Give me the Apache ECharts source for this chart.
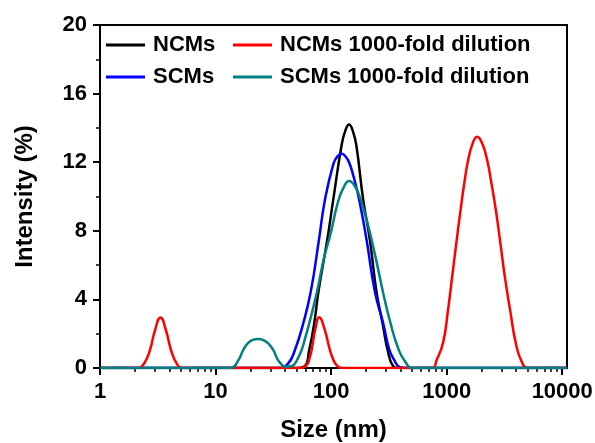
<!DOCTYPE html>
<html>
<head>
<meta charset="utf-8">
<script src="https://cdn.jsdelivr.net/npm/echarts@6/dist/echarts.min.js"></script>
<style>
  html, body { margin: 0; padding: 0; background: #fff; }
  #chart { width: 595px; height: 443px; }
</style>
</head>
<body>
<div id="chart"></div>
<script>
// size axis (nm), log scale
const majorTicks = [1, 10, 100, 1000, 10000];
const minorTicks = [];
for (const d of [1, 10, 100, 1000]) {
  for (let k = 2; k <= 9; k++) minorTicks.push(k * d);
}

// NCMs (black)
const ncmsSize = [1, 50.6, 59.1, 64.65, 71.42, 77.66, 92.54, 104.3, 123.3, 132.2, 142.9, 154.4, 165.2, 189.6, 216.6, 247.5, 279.0, 308.2, 344.4, 378.4, 11000];
const ncmsVal  = [0, 0,    0.1,  1.05,  2.6,   4.45,  7.46,  9.8,   13.0,  13.8,  14.2,  13.8,  13.0,  9.8,   7.46,  4.4,   2.6,   1.05,  0.1,   0,     0];

// NCMs 1000-fold dilution (red)
const ncmsDilSize = [1, 1.818, 2.145, 2.402, 2.707, 2.991, 3.337, 3.724, 4.114, 4.636, 5.173,
                     53.72, 61.4, 64.9, 67.82, 73.14, 78.9, 87.5, 97.6, 104.7, 111.6, 124.0,
                     740, 823, 933, 1024, 1116, 1213, 1319, 1423, 1535, 1679, 1836, 2028, 2240, 2436, 2665, 2914, 3188, 3556, 3968, 4472, 5070, 11000];
const ncmsDilVal  = [0, 0,     0,     0.25,  1.05,  2.2,   2.95,  2.2,   1.05,  0.23,  0,
                     0,     0.17, 0.55, 1.05,  2.3,   2.96, 2.3,  1.05, 0.47,  0.17,  0,
                     0,   0.5,  1.5,  3.3,  5.32, 7.3,  9.21, 10.8, 12.13, 13.1, 13.49, 13.1, 12.13, 10.8, 9.21, 7.3,  5.32, 3.3,  1.44, 0.35, 0,    0];

// SCMs (blue)
const scmsSize = [1, 36.06, 42.56, 48.63, 57.38, 66.89, 78.44, 88.39, 104.7, 113.6, 123.3, 132.7, 142.9, 155.9, 175.1, 202.8, 239.3, 282.3, 316.2, 349.3, 393.7, 443.7, 11000];
const scmsVal  = [0, 0,     0.27,  1.05,  2.6,   4.5,   7.46,  9.8,   11.9,  12.35, 12.5,  12.35, 12.0,  11.2,  9.8,   7.46,  4.45,  2.6,   1.15,  0.5,   0.05,  0,     0];

// SCMs 1000-fold dilution (teal)
const scmsDilSize = [1, 12.06, 13.79, 15.75, 17.36, 19.07, 21.15, 23.41, 25.97, 28.68, 31.56, 34.31, 37.32, 40.24, 44.02, 47.0,
                     51.01, 55.57, 59.95, 64.65, 75.84, 86.65, 99.6, 113.8, 127.8, 143.5, 160.6, 177.5, 196.1, 216.6, 249.0, 280.6, 327.1, 380.5, 434.8, 510.0, 11000];
const scmsDilVal  = [0, 0,     0.02,  0.45,  1.05,  1.45,  1.65,  1.69,  1.62,  1.42,  1.05,  0.52,  0.2,   0.07,  0.1,   0.15,
                     0.5,   1.05,  1.8,   2.6,   4.5,   6.4,   7.9,  9.6,   10.5,  10.9,  10.6,  9.95,  9.0,   7.9,   6.1,   4.45,  2.6,   1.15,  0.4,   0,     0];

const FONT = "'Liberation Sans', Arial, sans-serif";

function pairs(xs, ys) {
  return xs.map((x, i) => [x, ys[i]]);
}

function lineSeries(name, color, xs, ys) {
  return {
    name: name,
    type: 'line',
    xAxisIndex: 0,
    data: pairs(xs, ys),
    showSymbol: false,
    smooth: 0.5,
    lineStyle: { color: color, width: 2.5 },
    itemStyle: { color: color },
    animation: false
  };
}

const chart = echarts.init(document.getElementById('chart'), null, { renderer: 'canvas' });

const legendCommon = {
  orient: 'vertical',
  top: 33,
  padding: 0,
  icon: 'rect',
  itemWidth: 39,
  itemHeight: 3,
  itemGap: 8,
  textStyle: {
    fontFamily: FONT, fontWeight: 'bold', fontSize: 22, color: '#000',
    lineHeight: 24, padding: [0, 0, 0, 3]
  },
  selectedMode: false
};

chart.setOption({
  backgroundColor: '#fff',
  animation: false,
  grid: {
    left: 100, right: 28, top: 25, bottom: 75, outerBoundsMode: 'none',
    show: true, borderColor: '#000', borderWidth: 2
  },
  legend: [
    Object.assign({ left: 106, data: ['NCMs', 'SCMs'] }, legendCommon),
    Object.assign({ left: 233, data: ['NCMs 1000-fold dilution', 'SCMs 1000-fold dilution'] }, legendCommon)
  ],
  xAxis: [
    {
      type: 'log', logBase: 10, min: 1, max: 11000, position: 'bottom',
      name: 'Size (nm)', nameLocation: 'middle', nameGap: 50,
      nameTextStyle: { fontFamily: FONT, fontWeight: 'bold', fontSize: 24, color: '#000' },
      axisLine: { show: true, lineStyle: { color: '#000', width: 2 } },
      axisTick: { show: true, inside: false, length: 7, customValues: majorTicks, lineStyle: { color: '#000', width: 2 } },
      axisLabel: {
        customValues: majorTicks, margin: 13,
        fontFamily: FONT, fontWeight: 'bold', fontSize: 22, color: '#000',
        formatter: v => String(Math.round(v))
      },
      splitLine: { show: false }
    },
    {
      // minor ticks only
      type: 'log', logBase: 10, min: 1, max: 11000, position: 'bottom',
      axisLine: { show: false },
      axisTick: { show: true, inside: false, length: 4, customValues: minorTicks, lineStyle: { color: '#000', width: 1.5 } },
      axisLabel: { show: false },
      splitLine: { show: false }
    }
  ],
  yAxis: {
    type: 'value', min: 0, max: 20, interval: 4,
    name: 'Intensity (%)', nameLocation: 'middle', nameGap: 63,
    nameTextStyle: { fontFamily: FONT, fontWeight: 'bold', fontSize: 24, color: '#000' },
    axisLine: { show: true, lineStyle: { color: '#000', width: 2 } },
    axisTick: { show: true, inside: false, length: 7, lineStyle: { color: '#000', width: 2 } },
    minorTick: { show: true, splitNumber: 2, length: 4, lineStyle: { color: '#000', width: 1.5 } },
    axisLabel: { margin: 13, fontFamily: FONT, fontWeight: 'bold', fontSize: 22, color: '#000' },
    splitLine: { show: false },
    minorSplitLine: { show: false }
  },
  series: [
    lineSeries('NCMs', '#000000', ncmsSize, ncmsVal),
    lineSeries('SCMs', '#0000ff', scmsSize, scmsVal),
    lineSeries('NCMs 1000-fold dilution', '#ff0000', ncmsDilSize, ncmsDilVal),
    lineSeries('SCMs 1000-fold dilution', '#008080', scmsDilSize, scmsDilVal),
    // empty series so the minor-tick axis gets drawn
    { type: 'line', xAxisIndex: 1, data: [], showSymbol: false, silent: true }
  ]
});
</script>
</body>
</html>
